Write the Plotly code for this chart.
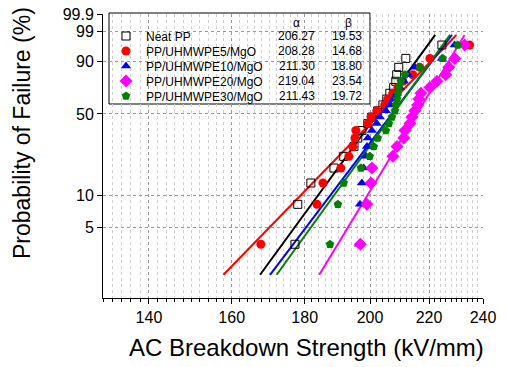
import numpy as np
import plotly.graph_objects as go

# ---------------- data ----------------
failure_prob = [3.4, 8.3, 13.2, 18.1, 23.0, 27.9, 32.8, 37.7, 42.6, 47.5,
                52.5, 57.4, 62.3, 67.2, 72.1, 77.0, 81.9, 86.8, 91.7, 96.6]

series_names = ["Neat PP", "PP/UHMWPE5/MgO", "PP/UHMWPE10/MgO",
                "PP/UHMWPE20/MgO", "PP/UHMWPE30/MgO"]

neat_pp = [177.2, 178.0, 181.8, 188.7, 191.7, 194.9, 196.1, 197.4, 199.3, 200.6,
           202.5, 204.2, 205.5, 206.5, 207.8, 208.5, 208.8, 209.5, 211.9, 224.6]
uhmwpe5 = [167.7, 183.6, 185.4, 190.8, 193.3, 194.5, 195.2, 195.5, 199.3, 200.3,
           202.2, 204.8, 205.8, 207.5, 209.2, 210.9, 214.3, 216.7, 220.3, 234.9]
uhmwpe10 = [196.5, 196.8, 197.4, 198.0, 198.7, 199.0, 199.3, 200.6, 202.2, 203.2,
            205.2, 206.5, 207.8, 208.9, 209.9, 211.2, 212.6, 215.0, 224.6, 229.3]
uhmwpe20 = [196.9, 199.0, 200.3, 200.6, 207.5, 208.9, 211.2, 211.6, 213.3, 214.0,
            215.0, 216.0, 216.4, 217.1, 220.3, 222.8, 226.0, 227.1, 229.3, 233.0]
uhmwpe30 = [187.5, 189.9, 191.7, 197.1, 199.9, 201.2, 202.5, 205.2, 206.2, 207.2,
            208.2, 208.5, 208.9, 209.2, 209.5, 210.2, 211.6, 216.7, 224.9, 230.4]

alpha = [206.27, 208.28, 211.30, 219.04, 211.43]
beta = [19.53, 14.68, 18.80, 23.54, 19.72]
fit_prob_range = [1.7, 98.6]

x_ticks = [140, 160, 180, 200, 220, 240]
y_ticks = [5, 10, 50, 90, 99, 99.9]
y_ticktext = ["5", "10", "50", "90", "99", "99.9"]

x_title = "AC Breakdown Strength (kV/mm)"
y_title = "Probability of Failure (%)"

# ---------------- styles ----------------
colors = ["black", "#FF0000", "#0000FF", "#FF00FF", "#008000"]
symbols = ["square-open", "circle", "triangle-up", "diamond", "pentagon"]
sizes = [8, 9, 9, 10, 9]
FONT = "Arial, Liberation Sans, sans-serif"


def weib(p):
    p = np.asarray(p, dtype=float) / 100.0
    return np.log(-np.log(1.0 - p))


# plot-area pixel helpers (for legend table / titles placement)
L, R, T, B = 103, 483, 14, 298
def px(x):
    return (x - L) / (R - L)
def py(y):
    return 1 - (y - T) / (B - T)

row_y = [36, 51, 66, 81, 96]
legend_ids = ["legend", "legend2", "legend3", "legend4", "legend5"]

all_series = [neat_pp, uhmwpe5, uhmwpe10, uhmwpe20, uhmwpe30]
fig = go.Figure()

# fitted Weibull lines
Yfit = weib(fit_prob_range)
for a, b, c in zip(alpha, beta, colors):
    xs = a * np.exp(Yfit / b)
    fig.add_trace(go.Scatter(x=xs, y=Yfit, mode="lines",
                             line=dict(color=c, width=2),
                             showlegend=False, hoverinfo="skip"))

# data points
for name, vals, c, s, sz, lg in zip(series_names, all_series, colors, symbols,
                                    sizes, legend_ids):
    mk = dict(symbol=s, size=sz, color=c)
    if s.endswith("open"):
        mk["line"] = dict(color=c, width=1)
    fig.add_trace(go.Scatter(x=vals, y=weib(failure_prob), mode="markers",
                             name=name, marker=mk, legend=lg))

txt = dict(family=FONT, size=12, color="black")
annotations = [
    dict(text="α", x=px(296), y=py(23), xanchor="center", yanchor="middle", font=txt),
    dict(text="β", x=px(348), y=py(23), xanchor="center", yanchor="middle", font=txt),
]
for k in range(5):
    annotations.append(dict(text=f"{alpha[k]:.2f}", x=px(317), y=py(row_y[k]),
                            xanchor="right", yanchor="middle", font=txt))
    annotations.append(dict(text=f"{beta[k]:.2f}", x=px(364), y=py(row_y[k]),
                            xanchor="right", yanchor="middle", font=txt))
annotations.append(dict(text=x_title, x=px(306), y=py(347), xanchor="center",
                        yanchor="middle", font=dict(family=FONT, size=24, color="black")))
annotations.append(dict(text=y_title, x=px(22), y=py(133), xanchor="center",
                        yanchor="middle", textangle=-90,
                        font=dict(family=FONT, size=23, color="black")))
for an in annotations:
    an.update(xref="paper", yref="paper", showarrow=False)

legend_layout = {}
for lg, ry in zip(legend_ids, row_y):
    legend_layout[lg] = dict(x=px(106), y=py(ry), xanchor="left", yanchor="middle",
                             bgcolor="rgba(0,0,0,0)", borderwidth=0,
                             font=dict(family=FONT, size=12, color="black"))

fig.update_layout(
    width=507, height=367,
    margin=dict(l=L, r=507 - R, t=T, b=367 - B),
    paper_bgcolor="white", plot_bgcolor="white",
    font=dict(family=FONT, color="black"),
    showlegend=True,
    annotations=annotations,
    shapes=[dict(type="rect", xref="paper", yref="paper",
                 x0=px(109), x1=px(370), y0=py(13), y1=py(104),
                 line=dict(color="black", width=1), fillcolor="white",
                 layer="between")],
    **legend_layout,
)

fig.update_xaxes(
    type="log", range=[np.log10(130), np.log10(240)], automargin=False,
    tickmode="array", tickvals=x_ticks, ticktext=[str(t) for t in x_ticks],
    ticks="outside", ticklen=5, tickwidth=1, tickcolor="black",
    showline=True, linecolor="black", linewidth=1, mirror=False,
    showgrid=True, gridcolor="#999999", griddash="dot", gridwidth=1,
    zeroline=False,
    tickfont=dict(family=FONT, size=16),
    minor=dict(tickmode="array", tickvals=list(range(130, 241, 2)),
               ticks="outside", ticklen=3, tickcolor="black",
               showgrid=True, gridcolor="#d0d0d0", griddash="dot", gridwidth=1),
)
fig.update_yaxes(
    range=[float(weib(1.0)), float(weib(99.9))], automargin=False,
    tickmode="array", tickvals=list(weib(y_ticks)), ticktext=y_ticktext,
    ticks="outside", ticklen=5, tickwidth=1, tickcolor="black",
    showline=True, linecolor="black", linewidth=1, mirror=False,
    showgrid=True, gridcolor="#999999", griddash="dot", gridwidth=1,
    zeroline=False,
    tickfont=dict(family=FONT, size=16),
)

fig.write_html("out.html",
               config={"displayModeBar": False, "staticPlot": True},
               post_script="document.body.style.margin='0';")
